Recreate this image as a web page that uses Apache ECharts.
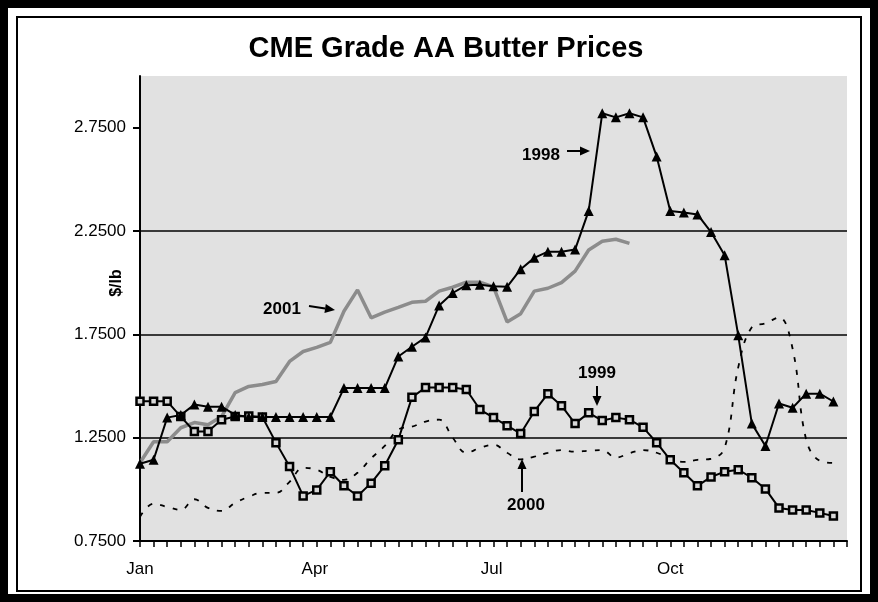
<!DOCTYPE html>
<html>
<head>
<meta charset="utf-8">
<script src="https://cdn.jsdelivr.net/npm/echarts@6/dist/echarts.min.js"></script>
<style>
  html, body { margin: 0; padding: 0; background: #fff; }
  #butter { width: 878px; height: 602px; }
</style>
</head>
<body>
<div id="butter"></div>
<script>
// weekly CME butter prices, $/lb, week 0 = first week of Jan
const prices1998 = [1.124, 1.143, 1.347, 1.36, 1.41, 1.40, 1.40, 1.36, 1.35, 1.35, 1.35, 1.35, 1.35,
  1.35, 1.35, 1.49, 1.49, 1.49, 1.49, 1.643, 1.69, 1.735, 1.89, 1.95, 1.988, 1.99, 1.983, 1.98,
  2.065, 2.12, 2.15, 2.15, 2.16, 2.347, 2.82, 2.80, 2.82, 2.80, 2.61, 2.347, 2.34, 2.33, 2.245,
  2.133, 1.745, 1.318, 1.21, 1.415, 1.395, 1.463, 1.463, 1.425];
const prices1999 = [1.426, 1.426, 1.426, 1.352, 1.28, 1.28, 1.337, 1.352, 1.355, 1.35, 1.226, 1.11,
  0.968, 0.997, 1.085, 1.017, 0.968, 1.03, 1.114, 1.24, 1.445, 1.493, 1.493, 1.493, 1.483, 1.386,
  1.347, 1.308, 1.27, 1.377, 1.463, 1.405, 1.318, 1.37, 1.333, 1.347, 1.337, 1.30, 1.226, 1.143,
  1.08, 1.017, 1.06, 1.085, 1.095, 1.056, 1.002, 0.91, 0.90, 0.90, 0.886, 0.871];
const prices2000 = [0.867, 0.93, 0.915, 0.90, 0.952, 0.91, 0.896, 0.935, 0.964, 0.983, 0.983, 1.036,
  1.104, 1.095, 1.06, 1.046, 1.08, 1.15, 1.21, 1.289, 1.303, 1.328, 1.337, 1.25, 1.177, 1.20,
  1.216, 1.177, 1.145, 1.158, 1.177, 1.19, 1.182, 1.187, 1.19, 1.153, 1.175, 1.19, 1.177, 1.15,
  1.133, 1.143, 1.148, 1.20, 1.59, 1.784, 1.803, 1.832, 1.68, 1.24, 1.138, 1.128];
const prices2001 = [1.129, 1.23, 1.23, 1.298, 1.323, 1.313, 1.352, 1.468, 1.498, 1.507, 1.522, 1.619,
  1.667, 1.687, 1.711, 1.862, 1.965, 1.83, 1.857, 1.88, 1.905, 1.91, 1.959, 1.978, 2.002, 2.002,
  1.98, 1.81, 1.85, 1.959, 1.973, 2.0, 2.056, 2.158, 2.20, 2.21, 2.19];

const monthLabels = ["Jan", "Apr", "Jul", "Oct"];
const monthWeeks = [0, 12.86, 25.86, 39];
const yTicks = [0.75, 1.25, 1.75, 2.25, 2.75];

const FONT = "Liberation Sans, Arial, sans-serif";

function toPoints(arr) {
  return arr.map((v, i) => [i, v]);
}

function arrow(x1, y1, x2, y2) {
  // shaft + head pointing at (x2, y2)
  const a = Math.atan2(y2 - y1, x2 - x1);
  const len = 10, half = 4.5;
  const bx = x2 - len * Math.cos(a), by = y2 - len * Math.sin(a);
  return [
    { type: "line", shape: { x1: x1, y1: y1, x2: bx, y2: by }, style: { stroke: "#000", lineWidth: 2 } },
    {
      type: "polygon",
      shape: { points: [[x2, y2], [bx - half * Math.sin(a), by + half * Math.cos(a)], [bx + half * Math.sin(a), by - half * Math.cos(a)]] },
      style: { fill: "#000" }
    }
  ];
}

function label(text, x, y) {
  return {
    type: "text", x: x, y: y,
    style: { text: text, fill: "#000", font: "bold 17px " + FONT, align: "center", verticalAlign: "middle" }
  };
}

const chart = echarts.init(document.getElementById("butter"));

const option = {
  animation: false,
  backgroundColor: "#fff",
  title: {
    text: "CME Grade AA Butter Prices",
    left: 441, top: 29, textAlign: "center",
    textStyle: { fontFamily: FONT, fontWeight: "bold", fontSize: 29, color: "#000" }
  },
  grid: {
    left: 140, right: 31, top: 76, bottom: 61,
    show: true, backgroundColor: "#e1e1e1", borderWidth: 0
  },
  xAxis: {
    type: "value", min: 0, max: 52, interval: 1,
    axisLine: { lineStyle: { color: "#000", width: 2 } },
    axisTick: { show: true, length: 6, lineStyle: { color: "#000", width: 1.5 } },
    axisLabel: {
      customValues: monthWeeks,
      formatter: v => monthLabels[monthWeeks.indexOf(v)] || "",
      color: "#000", fontFamily: FONT, fontSize: 17, margin: 20
    },
    splitLine: { show: false }
  },
  yAxis: {
    type: "value", min: 0.75, max: 3.0, interval: 0.5,
    axisLine: { show: true, lineStyle: { color: "#000", width: 2 } },
    axisTick: { show: true, length: 7, customValues: yTicks, lineStyle: { color: "#000", width: 2 } },
    axisLabel: {
      customValues: yTicks,
      formatter: v => v.toFixed(4),
      color: "#000", fontFamily: FONT, fontSize: 17, margin: 14
    },
    splitLine: { show: true, showMaxLine: false, lineStyle: { color: "#000", width: 1.5 } }
  },
  series: [
    {
      name: "2000", type: "line", data: toPoints(prices2000), smooth: 0.4,
      showSymbol: false, symbol: "none",
      lineStyle: { color: "#000", width: 1.8, type: [5, 8] }
    },
    {
      name: "2001", type: "line", data: toPoints(prices2001),
      showSymbol: false, symbol: "none",
      lineStyle: { color: "#8c8c8c", width: 3.5 }
    },
    {
      name: "1999", type: "line", data: toPoints(prices1999),
      symbol: "rect", symbolSize: 7,
      lineStyle: { color: "#000", width: 2 },
      itemStyle: { color: "#d8d8d8", borderColor: "#000", borderWidth: 2.5 }
    },
    {
      name: "1998", type: "line", data: toPoints(prices1998),
      symbol: "triangle", symbolSize: 10,
      lineStyle: { color: "#000", width: 2 },
      itemStyle: { color: "#000" }
    }
  ],
  graphic: [
    { type: "rect", shape: { x: 4, y: 4, width: 870, height: 594 }, style: { fill: "none", stroke: "#000", lineWidth: 8 } },
    { type: "rect", shape: { x: 17, y: 17, width: 844, height: 574 }, style: { fill: "none", stroke: "#000", lineWidth: 2 } },
    {
      type: "text", x: 117, y: 283, rotation: Math.PI / 2,
      style: { text: "$/lb", fill: "#000", font: "bold 16px " + FONT, align: "center", verticalAlign: "middle" }
    },
    label("1998", 541, 155),
    ...arrow(567, 151, 590, 151),
    label("2001", 282, 309),
    ...arrow(309, 306, 335, 310),
    label("1999", 597, 373),
    ...arrow(597, 386, 597, 406),
    label("2000", 526, 505),
    ...arrow(522, 492, 522, 459)
  ]
};

chart.setOption(option);
window.addEventListener("resize", function () {
  chart.resize();
});
</script>
</body>
</html>
